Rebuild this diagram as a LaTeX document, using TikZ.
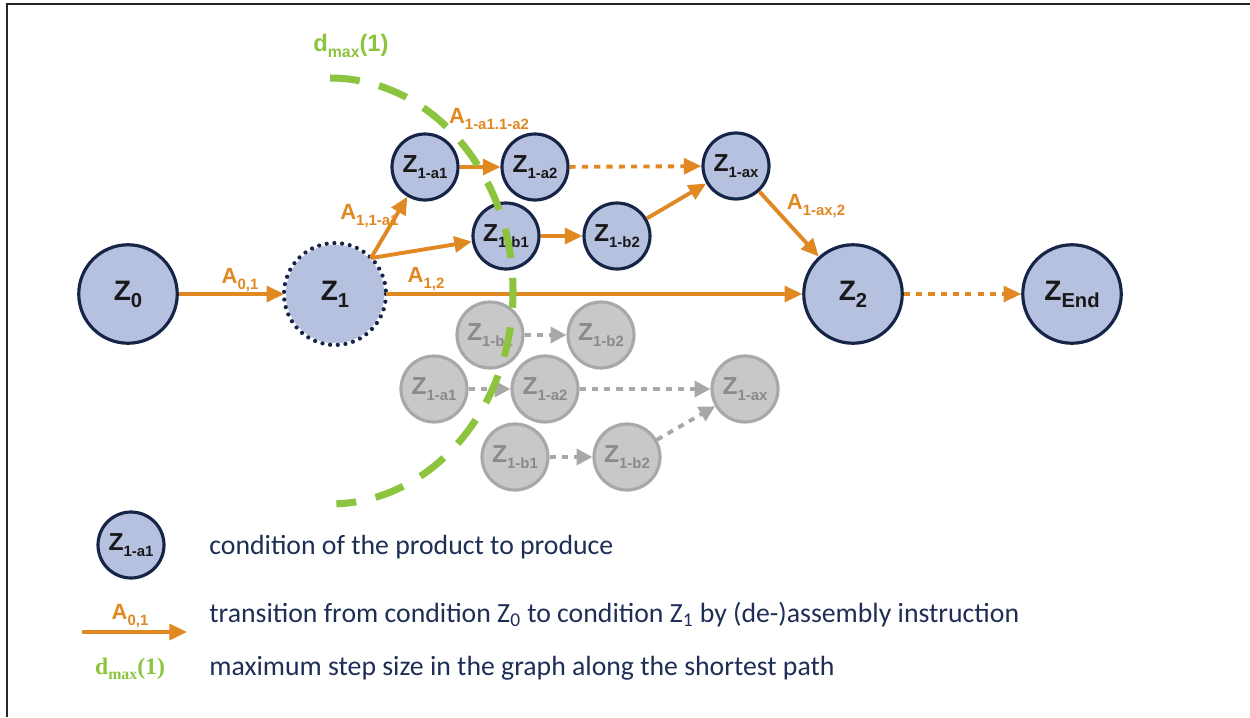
\documentclass[tikz,border=0pt]{standalone}
\usepackage{fontspec}
\setmainfont{Liberation Sans}
\newfontfamily\legendfont{Carlito}
\newfontfamily\legserif{Liberation Serif}
\usetikzlibrary{arrows.meta}

\definecolor{arrowor}{RGB}{224,136,34}
\definecolor{statefill}{RGB}{182,192,223}
\definecolor{stateline}{RGB}{22,36,72}
\definecolor{limitgreen}{RGB}{140,196,64}
\definecolor{ghostfill}{RGB}{200,200,200}
\definecolor{ghostline}{RGB}{168,168,168}
\definecolor{ghosttext}{RGB}{138,138,138}
\definecolor{legendtext}{RGB}{30,46,84}

% state labels Z_x and action labels A_x
\newcommand\bigZ[1]{{\fontsize{16}{16}\selectfont Z}\raisebox{-4pt}{\fontsize{11.5}{12}\selectfont #1}}
\newcommand\smallZ[1]{{\fontsize{14}{14}\selectfont Z}\raisebox{-3.5pt}{\fontsize{8.5}{9}\selectfont #1}}
\newcommand\actA[1]{{\fontsize{12.5}{12}\selectfont A}\raisebox{-3pt}{\fontsize{8.5}{9}\selectfont #1}}
\newcommand\dmaxlabel{{\fontsize{13.5}{14}\selectfont d}\raisebox{-3pt}{\fontsize{9}{9}\selectfont max}{\fontsize{13.5}{14}\selectfont (1)}}

\begin{document}
\begin{tikzpicture}[x=0.02cm,y=-0.02cm,
  bigstate/.style={circle, draw=stateline, fill=statefill, line width=1.8pt,
    minimum size=1.97cm, inner sep=0pt, font=\bfseries, text=black!90},
  smallstate/.style={circle, draw=stateline, fill=statefill, line width=1.8pt,
    minimum size=1.32cm, inner sep=0pt, font=\bfseries, text=black!90},
  ghost/.style={circle, draw=ghostline, fill=ghostfill, line width=1.8pt,
    minimum size=1.32cm, inner sep=0pt, font=\bfseries, text=ghosttext},
  act/.style={draw=arrowor, line width=2.2pt, -{Triangle[length=10pt,width=9pt]}},
  actdots/.style={act, dash pattern=on 3.5pt off 3.5pt},
  ghostarrow/.style={draw=ghostline, line width=2.2pt, dash pattern=on 3.5pt off 3.5pt,
    -{Triangle[length=9pt,width=9pt]}},
  actlabel/.style={text=arrowor, font=\bfseries, inner sep=0pt},
  legendline/.style={anchor=west, text=legendtext, inner sep=0pt,
    font=\legendfont\fontsize{15.8}{18}\selectfont}
]
\useasboundingbox (0,0) rectangle (1250,717);
\fill[white] (0,0) rectangle (1250,717);
\draw[line width=1.2pt, black!85] (7,717) -- (7,4) -- (1250,4);

% alternative (greyed) states below the main path
\node[ghost] (ga1) at (434,389) {\smallZ{1-a1}};
\node[ghost] (ga2) at (545,389) {\smallZ{1-a2}};
\node[ghost] (gax) at (745,389) {\smallZ{1-ax}};
\node[ghost] (gb1t) at (490,335) {\smallZ{1-b1}};
\node[ghost] (gb2t) at (601,335) {\smallZ{1-b2}};
\node[ghost] (gb1) at (515,457) {\smallZ{1-b1}};
\node[ghost] (gb2) at (627,457) {\smallZ{1-b2}};
\draw[ghostarrow] (gb1t) -- (gb2t);
\draw[ghostarrow] (ga1) -- (ga2);
\draw[ghostarrow] (ga2) -- (gax);
\draw[ghostarrow] (gb1) -- (gb2);
\draw[ghostarrow] (gb2) -- (gax);

% main states
\node[bigstate] (z0) at (128,294) {\bigZ{0}};
\node[bigstate, draw=none] (z1) at (335,294) {\bigZ{1}};
\draw[stateline, line width=2.4pt, dash pattern=on 0pt off 4.4pt, line cap=round]
  (z1.center) circle[radius=51];
\node[bigstate] (z2) at (853,294) {\bigZ{2}};
\node[bigstate] (zend) at (1072,294) {\bigZ{End}};
\node[smallstate] (za1) at (425,167) {\smallZ{1-a1}};
\node[smallstate] (za2) at (535,167) {\smallZ{1-a2}};
\node[smallstate] (zax) at (736,166) {\smallZ{1-ax}};
\node[smallstate] (zb1) at (506,236) {\smallZ{1-b1}};
\node[smallstate] (zb2) at (617,236) {\smallZ{1-b2}};

% transitions
\node[actlabel, anchor=west] (l11a) at (340,216) {\actA{1,1-a1}};
\draw[act] (z0) -- (z1);
\draw[act] (z1) -- (z2);
\draw[act] (z1.45) -- (za1);
\draw[act] (z1.45) -- (zb1);
\draw[act] (za1) -- (za2);
\draw[actdots] (za2) -- (zax);
\draw[act] (zb1) -- (zb2);
\draw[act] (zb2) -- (zax);
\draw[act] (zax) -- (z2);
\draw[actdots] (z2) -- (zend);

\node[actlabel] (l01) at (240,280) {\actA{0,1}};
\node[actlabel] (l12) at (426,279) {\actA{1,2}};
\node[actlabel] (la1a2) at (489,119) {\actA{1-a1.1-a2}};
\node[actlabel] (lax2) at (816,206) {\actA{1-ax,2}};

% maximum step size boundary
\draw[limitgreen, line width=4pt, dash pattern=on 17pt off 11.3pt]
  (330,78) arc[start angle=-90, end angle=88, x radius=183, y radius=213];
\node[text=limitgreen, font=\bfseries, inner sep=0pt] (dtop) at (351,46) {\dmaxlabel};

% legend
\node[smallstate] (legz) at (131,545) {\smallZ{1-a1}};
\coordinate (legA) at (82,632);
\coordinate (legB) at (187,632);
\draw[act] (legA) -- (legB);
\node[actlabel] (legAl) at (130,616) {\actA{0,1}};
\node[text=limitgreen, font=\legserif\bfseries, inner sep=0pt] (legd) at (130,669) {\dmaxlabel};

\node[legendline] (t1) at (209,547) {condition of the product to produce};
\node[legendline] (t2) at (209,615) {transition from condition Z\textsubscript{0} to condition Z\textsubscript{1} by (de-)assembly instruction};
\node[legendline] (t3) at (209,668) {maximum step size in the graph along the shortest path};
\end{tikzpicture}
\end{document}
